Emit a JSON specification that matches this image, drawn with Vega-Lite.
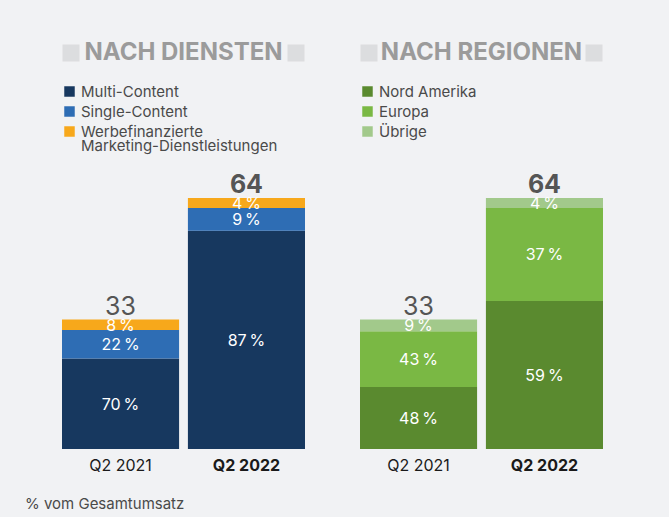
{
  "$schema": "https://vega.github.io/schema/vega-lite/v6.json",
  "background": "#f1f2f4",
  "padding": {"left": 25, "top": 37, "right": 66, "bottom": 5},
  "config": {
    "view": {"stroke": null},
    "font": "Inter",
    "legend": {"padding": 0},
    "locale": {"number": {"decimal": ",", "thousands": ".", "grouping": [3], "currency": ["", " €"], "percent": "\u2009%"}}
  },
  "datasets": {
    "dienste": [
      {"quartal": "Q2 2021", "kategorie": "Multi-Content", "anteil": 0.70, "umsatz": 23.1},
      {"quartal": "Q2 2021", "kategorie": "Single-Content", "anteil": 0.22, "umsatz": 7.26},
      {"quartal": "Q2 2021", "kategorie": "Werbefinanzierte Marketing-Dienstleistungen", "anteil": 0.08, "umsatz": 2.64},
      {"quartal": "Q2 2022", "kategorie": "Multi-Content", "anteil": 0.87, "umsatz": 55.68},
      {"quartal": "Q2 2022", "kategorie": "Single-Content", "anteil": 0.09, "umsatz": 5.76},
      {"quartal": "Q2 2022", "kategorie": "Werbefinanzierte Marketing-Dienstleistungen", "anteil": 0.04, "umsatz": 2.56}
    ],
    "regionen": [
      {"quartal": "Q2 2021", "kategorie": "Nord Amerika", "anteil": 0.48, "umsatz": 15.84},
      {"quartal": "Q2 2021", "kategorie": "Europa", "anteil": 0.43, "umsatz": 14.19},
      {"quartal": "Q2 2021", "kategorie": "Übrige", "anteil": 0.09, "umsatz": 2.97},
      {"quartal": "Q2 2022", "kategorie": "Nord Amerika", "anteil": 0.59, "umsatz": 37.76},
      {"quartal": "Q2 2022", "kategorie": "Europa", "anteil": 0.37, "umsatz": 23.68},
      {"quartal": "Q2 2022", "kategorie": "Übrige", "anteil": 0.04, "umsatz": 2.56}
    ]
  },
  "title": {
    "text": "% vom Gesamtumsatz",
    "orient": "bottom",
    "anchor": "start",
    "fontSize": 15,
    "fontWeight": "normal",
    "color": "#4a4a4a",
    "dx": -37,
    "offset": 24
  },
  "spacing": 55,
  "resolve": {"scale": {"color": "independent", "fill": "independent"}, "legend": {"color": "independent"}},
  "hconcat": [
    {
      "spacing": 15,
      "resolve": {"scale": {"color": "independent", "fill": "independent"}, "legend": {"color": "independent"}},
      "vconcat": [
        {
          "width": 243,
          "height": 32,
          "data": {"values": [{"element": "links"}, {"element": "titel", "text": "NACH DIENSTEN"}, {"element": "rechts"}]},
          "encoding": {"x": {"field": "element", "type": "nominal", "scale": {"type": "point", "domain": ["links", "titel", "rechts"], "padding": 0.08}, "axis": null}},
          "layer": [
            {"transform": [{"filter": "datum.element != 'titel'"}], "mark": {"type": "point", "shape": "square", "filled": true, "size": 289, "color": "#dcdddf", "opacity": 1}},
            {"transform": [{"filter": "datum.element == 'titel'"}], "mark": {"type": "text", "fontSize": 24, "fontWeight": "bold", "color": "#9b9b9b"}, "encoding": {"text": {"field": "text"}}}
          ]
        },
        {
          "width": 243,
          "height": 251,
          "data": {"name": "dienste"},
          "encoding": {
            "x": {"field": "quartal", "type": "nominal", "title": null, "scale": {"paddingInner": 0.07, "paddingOuter": 0},
              "axis": {"labelAngle": 0, "labelFontSize": 16, "labelColor": "#1a1a1a", "labelPadding": 8, "ticks": false, "domain": false,
                "labelFontWeight": {"condition": {"test": "datum.value == 'Q2 2022'", "value": "bold"}, "value": "normal"}}}
          },
          "layer": [
            {
              "mark": {"type": "bar"},
              "encoding": {
                "y": {"field": "umsatz", "type": "quantitative", "stack": "zero", "scale": {"domain": [0, 64], "nice": false}, "axis": null},
                "order": {"field": "anteil", "type": "quantitative", "sort": "descending"},
                "color": {"field": "kategorie", "type": "nominal",
                  "scale": {"domain": ["Multi-Content", "Single-Content", "Werbefinanzierte Marketing-Dienstleistungen"], "range": ["#17385f", "#2e6db4", "#f7a81b"]},
                  "legend": {"title": null, "orient": "none", "legendX": 0, "legendY": -114, "direction": "vertical", "symbolType": "square", "symbolSize": 110, "symbolStrokeWidth": 0,
                    "labelFontSize": 15, "labelColor": "#4a4a4a", "labelOffset": 4, "rowPadding": 4, "labelLimit": 300,
                    "encode": {"labels": {"update": {"lineHeight": {"value": 14}}}},
                    "labelExpr": "datum.label == 'Werbefinanzierte Marketing-Dienstleistungen' ? ['Werbefinanzierte', 'Marketing-Dienstleistungen'] : datum.label"}}
              }
            },
            {
              "mark": {"type": "text", "fontSize": 16, "baseline": "middle", "dy": 1, "color": "#ffffff"},
              "encoding": {
                "y": {"field": "umsatz", "type": "quantitative", "stack": "zero", "bandPosition": 0.5},
                "order": {"field": "anteil", "type": "quantitative", "sort": "descending"},
                "detail": {"field": "kategorie", "type": "nominal"},
                "text": {"field": "anteil", "type": "quantitative", "format": ".0%"}
              }
            },
            {
              "transform": [{"filter": "datum.quartal == 'Q2 2021'"}],
              "mark": {"type": "text", "fontSize": 25, "color": "#555555", "baseline": "alphabetic", "dy": -5},
              "encoding": {
                "y": {"aggregate": "sum", "field": "umsatz", "type": "quantitative"},
                "text": {"aggregate": "sum", "field": "umsatz", "type": "quantitative", "format": ".0f"}
              }
            },
            {
              "transform": [{"filter": "datum.quartal == 'Q2 2022'"}],
              "mark": {"type": "text", "fontSize": 25, "fontWeight": "bold", "color": "#555555", "baseline": "alphabetic", "dy": -5},
              "encoding": {
                "y": {"aggregate": "sum", "field": "umsatz", "type": "quantitative"},
                "text": {"aggregate": "sum", "field": "umsatz", "type": "quantitative", "format": ".0f"}
              }
            }
          ]
        }
      ]
    },
    {
      "spacing": 15,
      "resolve": {"scale": {"color": "independent", "fill": "independent"}, "legend": {"color": "independent"}},
      "vconcat": [
        {
          "width": 243,
          "height": 32,
          "data": {"values": [{"element": "links"}, {"element": "titel", "text": "NACH REGIONEN"}, {"element": "rechts"}]},
          "encoding": {"x": {"field": "element", "type": "nominal", "scale": {"type": "point", "domain": ["links", "titel", "rechts"], "padding": 0.08}, "axis": null}},
          "layer": [
            {"transform": [{"filter": "datum.element != 'titel'"}], "mark": {"type": "point", "shape": "square", "filled": true, "size": 289, "color": "#dcdddf", "opacity": 1}},
            {"transform": [{"filter": "datum.element == 'titel'"}], "mark": {"type": "text", "fontSize": 24, "fontWeight": "bold", "color": "#9b9b9b"}, "encoding": {"text": {"field": "text"}}}
          ]
        },
        {
          "width": 243,
          "height": 251,
          "data": {"name": "regionen"},
          "encoding": {
            "x": {"field": "quartal", "type": "nominal", "title": null, "scale": {"paddingInner": 0.07, "paddingOuter": 0},
              "axis": {"labelAngle": 0, "labelFontSize": 16, "labelColor": "#1a1a1a", "labelPadding": 8, "ticks": false, "domain": false,
                "labelFontWeight": {"condition": {"test": "datum.value == 'Q2 2022'", "value": "bold"}, "value": "normal"}}}
          },
          "layer": [
            {
              "mark": {"type": "bar"},
              "encoding": {
                "y": {"field": "umsatz", "type": "quantitative", "stack": "zero", "scale": {"domain": [0, 64], "nice": false}, "axis": null},
                "order": {"field": "anteil", "type": "quantitative", "sort": "descending"},
                "color": {"field": "kategorie", "type": "nominal",
                  "scale": {"domain": ["Nord Amerika", "Europa", "Übrige"], "range": ["#5a8a2f", "#7ab844", "#a2c98b"]},
                  "legend": {"title": null, "orient": "none", "legendX": 0, "legendY": -114, "direction": "vertical", "symbolType": "square", "symbolSize": 110, "symbolStrokeWidth": 0,
                    "labelFontSize": 15, "labelColor": "#4a4a4a", "labelOffset": 4, "rowPadding": 4, "labelLimit": 300}}
              }
            },
            {
              "mark": {"type": "text", "fontSize": 16, "baseline": "middle", "dy": 1, "color": "#ffffff"},
              "encoding": {
                "y": {"field": "umsatz", "type": "quantitative", "stack": "zero", "bandPosition": 0.5},
                "order": {"field": "anteil", "type": "quantitative", "sort": "descending"},
                "detail": {"field": "kategorie", "type": "nominal"},
                "text": {"field": "anteil", "type": "quantitative", "format": ".0%"}
              }
            },
            {
              "transform": [{"filter": "datum.quartal == 'Q2 2021'"}],
              "mark": {"type": "text", "fontSize": 25, "color": "#555555", "baseline": "alphabetic", "dy": -5},
              "encoding": {
                "y": {"aggregate": "sum", "field": "umsatz", "type": "quantitative"},
                "text": {"aggregate": "sum", "field": "umsatz", "type": "quantitative", "format": ".0f"}
              }
            },
            {
              "transform": [{"filter": "datum.quartal == 'Q2 2022'"}],
              "mark": {"type": "text", "fontSize": 25, "fontWeight": "bold", "color": "#555555", "baseline": "alphabetic", "dy": -5},
              "encoding": {
                "y": {"aggregate": "sum", "field": "umsatz", "type": "quantitative"},
                "text": {"aggregate": "sum", "field": "umsatz", "type": "quantitative", "format": ".0f"}
              }
            }
          ]
        }
      ]
    }
  ]
}
